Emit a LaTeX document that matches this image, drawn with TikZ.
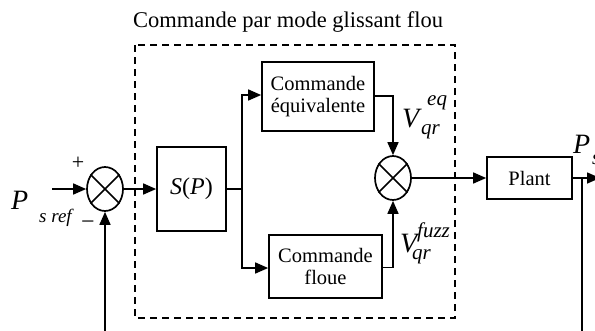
\documentclass[tikz,border=0pt]{standalone}
\usepackage{fontspec}
\setmainfont{Liberation Serif}
\usetikzlibrary{arrows.meta,shapes.geometric}

\tikzset{
  wire/.style={line width=1.6pt},
  arr/.style={wire,-{Triangle[length=13pt,width=11pt]}},
  blk/.style={draw,line width=1.7pt,inner sep=0pt,align=center,
    font=\fontsize{20.5}{22}\selectfont},
  summer/.style={draw,ellipse,line width=1.7pt,inner sep=0pt,
    minimum width=36pt,minimum height=44pt},
  lbl/.style={inner sep=0pt,anchor=base west},
  big/.style={lbl,font=\fontsize{28}{30}\selectfont\itshape},
  small/.style={lbl,font=\fontsize{21}{23}\selectfont\itshape},
}
\newcommand{\crossin}[1]{%
  \draw[line width=1.5pt] (#1.45) -- (#1.225) (#1.135) -- (#1.315);}

\begin{document}
\begin{tikzpicture}[x=1pt,y=-1pt]
\useasboundingbox (0,0) rectangle (595,330);
\clip (0,0) rectangle (595,330);

% title and the dashed frame of the fuzzy sliding mode controller
\node[inner sep=0pt,anchor=base,font=\fontsize{22.5}{24}\selectfont]
  (title) at (288,27) {Commande par mode glissant flou};
\draw[line width=1.6pt,dash pattern=on 7pt off 5pt] (135,45) rectangle (455,318);

% blocks
\node[summer] (s1) at (105,189) {};
\crossin{s1}
\node[blk,minimum width=69pt,minimum height=84pt] (sp) at (191.5,189)
  {\fontsize{24}{26}\selectfont\textit{S}(\textit{P})};
\node[blk,minimum width=112pt,minimum height=69pt] (eq) at (318,96.5)
  {Commande\\équivalente};
\node[blk,minimum width=113pt,minimum height=63pt] (fl) at (325.5,266.5)
  {Commande\\floue};
\node[summer] (s2) at (393,178) {};
\crossin{s2}
\node[blk,minimum width=85pt,minimum height=42pt] (pl) at (529.5,178) {Plant};

% signal paths
\coordinate (in) at (52,189);
\coordinate (br) at (242,189);
\coordinate (out) at (600,178);
\coordinate (fbR) at (582,178);
\coordinate (fbRb) at (582,332);
\coordinate (fbLb) at (105,332);

\draw[arr] (in) -- (s1.west);
\draw[arr] (s1.east) -- (sp.west);
\draw[wire] (sp.east) -- (br);
\draw[arr] (br) |- ([yshift=1.5pt]eq.west);
\draw[arr] (br) |- ([yshift=-1.5pt]fl.west);
\draw[arr] ([yshift=0.5pt]eq.east) -| (s2.north);
\draw[arr] ([yshift=-1pt]fl.east) -| (s2.south);
\draw[arr] (s2.east) -- (pl.west);
\draw[arr] (pl.east) -- (out);
\draw[wire] (fbR) -- (fbRb);
\draw[arr] (fbLb) -- (s1.south);

% signs and signal names
\node[inner sep=0pt,font=\fontsize{22}{24}\selectfont] (plus) at (78,163) {+};
\node[inner sep=0pt,font=\fontsize{24}{26}\selectfont] (minus) at (88,225) {\textminus};

\node[big] (pref) at (11,209) {P};
\node[lbl,font=\fontsize{19}{21}\selectfont\itshape] (prefs) at (39,222) {s ref};

\node[big] (veq) at (402,127) {V};
\node[small] (veqsup) at (427,105) {eq};
\node[small] (veqsub) at (421,134) {qr};

\node[big] (vfz) at (400,252) {V};
\node[small] (vfzsup) at (417,237) {fuzz};
\node[small] (vfzsub) at (412,259) {qr};

\node[big] (ps) at (573,153) {P};
\node[small] (pss) at (592,164) {s};
\end{tikzpicture}
\end{document}
